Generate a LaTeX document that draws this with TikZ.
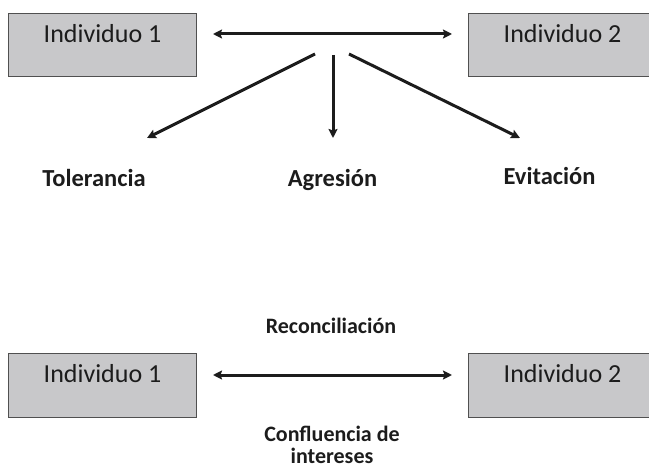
\documentclass[tikz,border=0pt]{standalone}
\usepackage{fontspec}
\setmainfont{Carlito}
\usetikzlibrary{arrows.meta}
\definecolor{boxgray}{RGB}{200,200,202}
\definecolor{boxline}{RGB}{80,80,80}
\definecolor{ink}{RGB}{28,28,28}
\begin{document}
\begin{tikzpicture}[x=1pt,y=-1pt,
  box/.style={draw=boxline, fill=boxgray, line width=1.1pt, anchor=north west,
    minimum width=188pt, inner xsep=0pt, inner ysep=0pt, text height=29pt, text depth=34pt,
    font=\fontsize{26}{31}\selectfont, text=ink},
  lbl/.style={font=\bfseries\fontsize{24.5}{29}\selectfont, text=ink, anchor=base, inner sep=0pt},
  sml/.style={font=\bfseries\fontsize{22}{22}\selectfont, text=ink, align=center, inner sep=0pt},
  tip/.style={},
  arr/.style={draw=ink, line width=3pt, -{Stealth[length=9pt,width=9pt,inset=1.5pt]}},
  darr/.style={draw=ink, line width=3pt, {Stealth[length=9pt,width=9pt,inset=1.5pt]}-{Stealth[length=9pt,width=9pt,inset=1.5pt]}}
]
\useasboundingbox (0,0) rectangle (649,468);

% top part
\node[box] (a1) at (8,13) {Individuo 1};
\node[box] (a2) at (468,13) {Individuo 2};
\coordinate (ta) at (213,34);
\coordinate (tb) at (452,34);
\draw[darr] (ta) -- (tb);

\coordinate (sl) at (315,54);
\coordinate (sc) at (333,55);
\coordinate (sr) at (349,54);
\coordinate (el) at (147,138);
\coordinate (ec) at (333,138);
\coordinate (er) at (520,138);
\draw[arr] (sl) -- (el);
\draw[arr] (sc) -- (ec);
\draw[arr] (sr) -- (er);

\node[lbl] (tol) at (94,187) {Tolerancia};
\node[lbl] (agr) at (332.5,187) {Agresión};
\node[lbl] (evi) at (549.5,185) {Evitación};

% bottom part
\node[box, text depth=35pt] (b1) at (8,353) {Individuo 1};
\node[box, text depth=35pt] (b2) at (468,353) {Individuo 2};
\coordinate (ba) at (213,375);
\coordinate (bb) at (452,375);
\draw[darr] (ba) -- (bb);

\node[sml, anchor=base] (rec) at (331,334) {Reconciliación};
\node[sml, anchor=base] (con) at (332,463) {Confluencia de\\intereses};
\end{tikzpicture}
\end{document}
